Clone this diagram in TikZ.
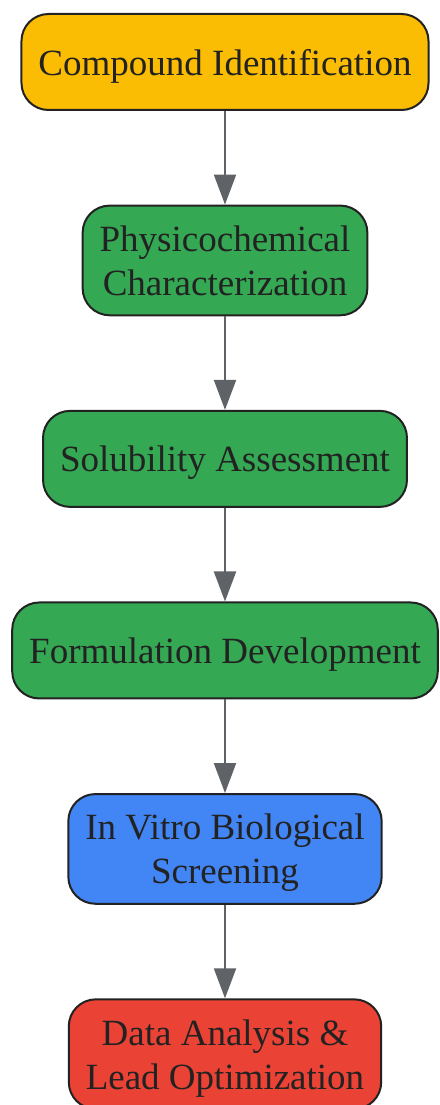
\documentclass[tikz,border=0pt]{standalone}
\usepackage{fontspec}
\setmainfont{Liberation Serif}
\usetikzlibrary{positioning,arrows.meta}
\definecolor{gyellow}{HTML}{FBBC04}
\definecolor{ggreen}{HTML}{34A853}
\definecolor{gblue}{HTML}{4285F4}
\definecolor{gred}{HTML}{EA4335}
\definecolor{edgegray}{HTML}{5F6368}
\definecolor{textdark}{HTML}{222222}
\begin{document}
\begin{tikzpicture}[node distance=93.6pt,
  main/.style={draw=textdark, line width=2pt, rounded corners=27pt, minimum height=96pt,
    inner xsep=17pt, inner ysep=20pt, text depth=0pt, align=center, text=textdark,
    font=\fontsize{37}{44}\selectfont},
  link/.style={draw=edgegray, line width=2pt, -{Triangle[length=30pt,width=22pt]}}]
\useasboundingbox (0,0) rectangle (439pt,-1105pt);
\node[main, fill=gyellow] (1) at (225pt,-62pt) {Compound Identification};
\node[main, fill=ggreen] (2) [below=of 1] {Physicochemical\\Characterization};
\node[main, fill=ggreen] (3) [below=of 2] {Solubility Assessment};
\node[main, fill=ggreen] (4) [below=of 3] {Formulation Development};
\node[main, fill=gblue] (5) [below=of 4] {In Vitro Biological\\Screening};
\node[main, fill=gred] (6) [below=of 5] {Data Analysis \&\\Lead Optimization};
\draw[link] (1) -- (2);
\draw[link] (2) -- (3);
\draw[link] (3) -- (4);
\draw[link] (4) -- (5);
\draw[link] (5) -- (6);
\end{tikzpicture}
\end{document}
